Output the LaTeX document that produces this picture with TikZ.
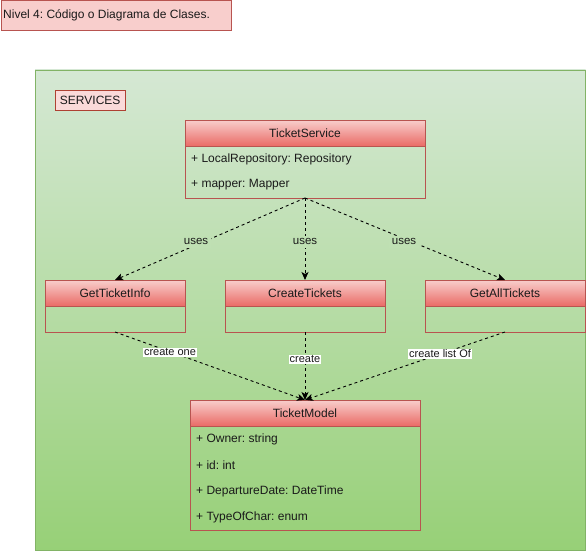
\documentclass[tikz,border=0pt]{standalone}
\usepackage{fontspec}
\setmainfont{Liberation Sans}
\usetikzlibrary{arrows.meta}
\definecolor{rf}{HTML}{F8CECC}
\definecolor{rs}{HTML}{B85450}
\definecolor{rb}{HTML}{EA6B66}
\definecolor{gt}{HTML}{D5E8D4}
\definecolor{gb}{HTML}{97D077}
\definecolor{gs}{HTML}{82B366}
\definecolor{lblbg}{RGB}{191,224,179}
\definecolor{svcs}{HTML}{AE4132}
\definecolor{txt}{HTML}{1A1A1A}
\frenchspacing
\begin{document}
\frenchspacing
\begin{tikzpicture}[x=1pt,y=-1pt,
  font=\fontsize{12}{14}\selectfont, text=txt,
  hdr/.style={draw=rs, top color=rf, bottom color=rb, minimum height=26pt, inner sep=0pt, outer sep=0pt, anchor=north west},
  bodybox/.style={draw=rs, minimum height=#1, inner sep=0pt, outer sep=0pt, anchor=north},
  attr/.style={anchor=west, inner sep=0pt},
  dep/.style={dash pattern=on 3pt off 3pt, line width=0.9pt, -{Stealth[length=8pt,width=7pt,inset=2pt]}},
  usel/.style={font=\fontsize{11.5}{13}\selectfont, fill=lblbg, inner sep=3pt},
  crl/.style={font=\fontsize{11}{13}\selectfont, fill=white, inner sep=1pt}
]
\useasboundingbox (0,0) rectangle (586,551);
% title
\node[draw=rs, fill=rf, minimum width=230pt, minimum height=30pt, inner sep=0pt, anchor=north west] (title) at (0.5,0.5) {};
\node[anchor=west, inner sep=0pt] (titletext) at (3,15) {Nivel 4: Código o Diagrama de Clases.};
% container
\shade[draw=gs, top color=gt, bottom color=gb] (35,70) rectangle (585.5,550);
\node[draw=svcs, fill=rf!75!white, minimum width=70pt, minimum height=20pt, inner sep=0pt, anchor=north west] (svc) at (55,90) {SERVICES};
% TicketService
\node[hdr, minimum width=240pt] (ts) at (185,120) {TicketService};
\node[bodybox=52pt, minimum width=240pt] (tsb) at (ts.south) {};
\node[attr] (ts1) at (191,159) {+ LocalRepository: Repository};
\node[attr] (ts2) at (191,185) {+ mapper: Mapper};
% Use cases
\node[hdr, minimum width=140pt] (gti) at (45,280) {GetTicketInfo};
\node[bodybox=26pt, minimum width=140pt] (gtib) at (gti.south) {};
\node[hdr, minimum width=160pt] (ct) at (225,280) {CreateTickets};
\node[bodybox=26pt, minimum width=160pt] (ctb) at (ct.south) {};
\node[hdr, minimum width=160pt] (gat) at (425,280) {GetAllTickets};
\node[bodybox=26pt, minimum width=160pt] (gatb) at (gat.south) {};
% TicketModel
\node[hdr, minimum width=230pt] (tm) at (190,400) {TicketModel};
\node[bodybox=104pt, minimum width=230pt] (tmb) at (tm.south) {};
\node[attr] (tm1) at (196,439) {+ Owner: string};
\node[attr] (tm2) at (196,465) {+ id: int};
\node[attr] (tm3) at (196,491) {+ DepartureDate: DateTime};
\node[attr] (tm4) at (196,517) {+ TypeOfChar: enum};
% connectors
\draw[dep] (tsb.south) -- (gti.north) node[usel, pos=0.51, xshift=-12pt, yshift=-2pt] {uses};
\draw[dep] (tsb.south) -- (ct.north) node[usel, pos=0.51, yshift=-2pt] {uses};
\draw[dep] (tsb.south) -- (gat.north) node[usel, pos=0.51, xshift=-3pt, yshift=-2pt] {uses};
\draw[dep] (gtib.south) -- (tm.north) node[crl, pos=0.3, xshift=-2pt] {create one};
\draw[dep] (ctb.south) -- (tm.north) node[crl, pos=0.4] {create};
\draw[dep] (gatb.south) -- (tm.north) node[crl, pos=0.32, xshift=-1pt] {create list Of};
\end{tikzpicture}
\end{document}
